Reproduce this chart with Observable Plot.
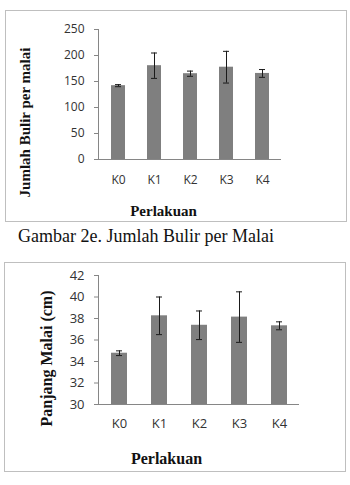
<!DOCTYPE html>
<html>
<head>
<meta charset="utf-8">
<script src="https://cdn.jsdelivr.net/npm/d3@7"></script>
<script src="https://cdn.jsdelivr.net/npm/@observablehq/plot@0.6"></script>
<style>
  html, body { margin: 0; padding: 0; background: #fff; width: 350px; height: 485px; overflow: hidden; }
  .box { position: absolute; border: 1px solid #bfbfbf; box-sizing: border-box; }
  .chart { position: absolute; left: 0; }
  .caption { position: absolute; left: 18px; top: 226px; font-family: "Liberation Serif", "Times New Roman", serif; font-size: 18px; line-height: 20px; color: #111; white-space: nowrap; }
</style>
</head>
<body>
<div class="box" style="left:5px;top:10px;width:342px;height:212px;"></div>
<div class="box" style="left:4px;top:262px;width:342px;height:210px;"></div>
<div id="top" class="chart" style="top:0px;"></div>
<div class="caption">Gambar 2e. Jumlah Bulir per Malai</div>
<div id="bottom" class="chart" style="top:250px;"></div>
<script>
const categories = ["K0", "K1", "K2", "K3", "K4"];

const bulirMeans = [142, 180.4, 165, 177.5, 165.5];
const bulirErrors = [2, 24.4, 5, 30.5, 7.5];
const bulirTicks = [0, 50, 100, 150, 200, 250];
const bulirDomain = [0, 250];

const panjangMeans = [34.77, 38.25, 37.37, 38.13, 37.32];
const panjangErrors = [0.22, 1.75, 1.33, 2.35, 0.37];
const panjangTicks = [30, 32, 34, 36, 38, 40, 42];
const panjangDomain = [30, 42];

const xTitle = "Perlakuan";
const bulirTitle = "Jumlah Bulir per malai";
const panjangTitle = "Panjang Malai (cm)";

const bulir = categories.map((k, i) => ({k, v: bulirMeans[i], e: bulirErrors[i]}));
const panjang = categories.map((k, i) => ({k, v: panjangMeans[i], e: panjangErrors[i]}));

const axisColor = "#868686";
const barColor = "#7f7f7f";
const errColor = "#1a1a1a";
const serif = "'Liberation Serif', 'Times New Roman', serif";

function makeChart(opts) {
  const {data, ticks, domain, width, height, mt, mb, ml, mr, pi, po, fs, tickPad, xPad, capInset,
         yTitle, yTitleFs, yTitleDx, yTitleDy, xTitleFs, xTitleDx, xTitleDy} = opts;
  const base = domain[0];
  return Plot.plot({
    width, height,
    marginTop: mt, marginBottom: mb, marginLeft: ml, marginRight: mr,
    style: {fontFamily: "'Open Sans', sans-serif", fontSize: fs + "px", color: "#333", background: "transparent", overflow: "visible"},
    x: {domain: categories, paddingInner: pi, paddingOuter: po, label: null},
    y: {domain, label: null},
    marks: [
      Plot.barY(data, {x: "k", y1: () => base, y2: "v", fill: barColor}),
      Plot.ruleX(data, {x: "k", y1: d => d.v - d.e, y2: d => d.v + d.e, stroke: errColor, strokeWidth: 1}),
      Plot.tickY(data, {x: "k", y: d => d.v + d.e, inset: capInset, stroke: errColor, strokeWidth: 1}),
      Plot.tickY(data, {x: "k", y: d => d.v - d.e, inset: capInset, stroke: errColor, strokeWidth: 1}),
      Plot.ruleY([base], {stroke: axisColor}),
      Plot.frame({anchor: "left", stroke: axisColor}),
      Plot.axisY({ticks, tickSize: 4, tickPadding: tickPad, stroke: axisColor, fill: "#333", label: null}),
      Plot.axisX({tickSize: 0, tickPadding: xPad, fill: "#333", label: null}),
      Plot.text([xTitle], {frameAnchor: "bottom", textAnchor: "middle", lineAnchor: "middle", dx: xTitleDx, dy: xTitleDy,
        fontFamily: serif, fontWeight: "bold", fontSize: xTitleFs, fill: "#111"}),
      Plot.text([yTitle], {frameAnchor: "left", textAnchor: "middle", lineAnchor: "middle", rotate: -90, dx: yTitleDx, dy: yTitleDy,
        fontFamily: serif, fontWeight: "bold", fontSize: yTitleFs, fill: "#111"})
    ]
  });
}

document.getElementById("top").appendChild(makeChart({
  data: bulir, ticks: bulirTicks, domain: bulirDomain,
  width: 350, height: 230, mt: 29, mb: 71, ml: 98, mr: 69, pi: 0.62, po: 0.31,
  fs: 12, tickPad: 10, xPad: 16, capInset: 4,
  yTitle: bulirTitle, yTitleFs: 15, yTitleDx: -73, yTitleDy: 28,
  xTitleFs: 15, xTitleDx: -26.5, xTitleDy: 52
}));

document.getElementById("bottom").appendChild(makeChart({
  data: panjang, ticks: panjangTicks, domain: panjangDomain,
  width: 350, height: 235, mt: 25, mb: 81, ml: 98, mr: 51, pi: 0.61, po: 0.305,
  fs: 13, tickPad: 10, xPad: 14, capInset: 5,
  yTitle: panjangTitle, yTitleFs: 16, yTitleDx: -52, yTitleDy: 18.5,
  xTitleFs: 16, xTitleDx: -32.5, xTitleDy: 54
}));
</script>
</body>
</html>
